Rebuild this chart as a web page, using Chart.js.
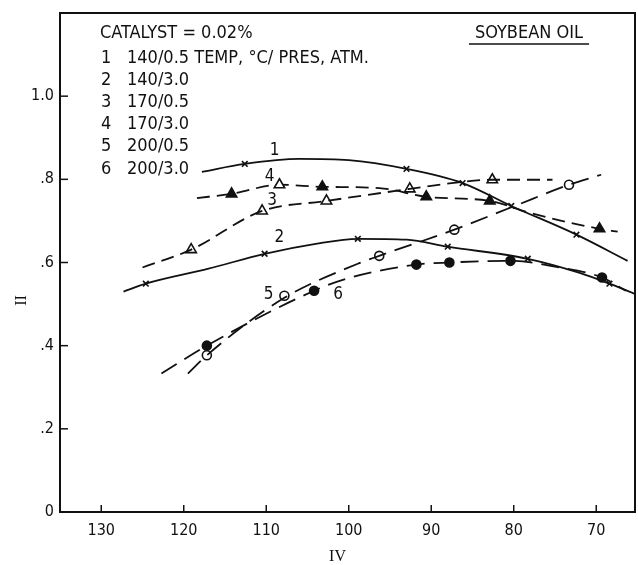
<!DOCTYPE html>
<html><head><meta charset="utf-8">
<script src="https://cdn.jsdelivr.net/npm/chart.js@4"></script>
<style>html,body{margin:0;padding:0;background:#fff}#w{width:638px;height:565px}</style>
</head><body><div id="w"><canvas id="c"></canvas></div>
<script>
const IV_TICKS = [130, 120, 110, 100, 90, 80, 70];
const II_TICKS = [0, 0.2, 0.4, 0.6, 0.8, 1.0];

// curve 1: 140/0.5 (solid, x marks)
const c1IV = [117.8, 112.6, 106, 100, 93.0, 86.2, 80.3, 72.4, 66.2];
const c1II = [0.818, 0.837, 0.849, 0.846, 0.825, 0.791, 0.736, 0.667, 0.604];
const m1IV = [112.6, 93.0, 86.2, 80.3, 72.4];
const m1II = [0.837, 0.825, 0.791, 0.736, 0.667];
// curve 2: 140/3.0 (solid, x marks)
const c2IV = [127.3, 124.6, 117, 110.2, 104, 98.9, 93, 88.0, 78.3, 72, 68.4, 65.0];
const c2II = [0.530, 0.549, 0.585, 0.621, 0.645, 0.657, 0.655, 0.638, 0.609, 0.575, 0.549, 0.522];
const m2IV = [124.6, 110.2, 98.9, 88.0, 78.3, 68.4];
const m2II = [0.549, 0.621, 0.657, 0.638, 0.609, 0.549];
// curve 3: 170/0.5 (dashed, open triangles)
const c3IV = [125.0, 119.1, 110.5, 102.7, 92.6, 87, 82.6, 75.3];
const c3II = [0.588, 0.631, 0.724, 0.748, 0.777, 0.792, 0.799, 0.799];
const m3IV = [119.1, 110.5, 108.4, 102.7, 92.6, 82.6];
const m3II = [0.631, 0.724, 0.787, 0.748, 0.777, 0.799];
// curve 4: 170/3.0 (dashed, filled triangles)
const c4IV = [118.4, 114.2, 108.4, 103.2, 96.3, 90.6, 82.9, 78, 69.6, 67.4];
const c4II = [0.755, 0.765, 0.787, 0.782, 0.779, 0.758, 0.748, 0.719, 0.681, 0.674];
const m4IV = [114.2, 103.2, 90.6, 82.9, 69.6];
const m4II = [0.765, 0.782, 0.758, 0.748, 0.681];
// curve 5: 200/0.5 (dashed, open circles)
const c5IV = [119.5, 117.2, 107.8, 98.9, 96.3, 87.2, 80, 73.3, 69.4];
const c5II = [0.333, 0.377, 0.515, 0.597, 0.616, 0.679, 0.735, 0.787, 0.811];
const m5IV = [117.2, 107.8, 96.3, 87.2, 73.3];
const m5II = [0.377, 0.520, 0.616, 0.679, 0.787];
// curve 6: 200/3.0 (dashed, filled circles)
const c6IV = [122.7, 117.2, 104.2, 100.3, 91.8, 87.8, 80.4, 75, 69.3, 66.4];
const c6II = [0.333, 0.400, 0.532, 0.561, 0.595, 0.600, 0.604, 0.590, 0.564, 0.532];
const m6IV = [117.2, 104.2, 91.8, 87.8, 80.4, 69.3];
const m6II = [0.400, 0.532, 0.595, 0.600, 0.604, 0.564];

const LEGEND_HEAD = 'CATALYST = 0.02%';
const LEGEND_NUM = ['1', '2', '3', '4', '5', '6'];
const LEGEND_TXT = ['140/0.5 TEMP, °C/ PRES, ATM.', '140/3.0', '170/0.5', '170/3.0', '200/0.5', '200/3.0'];
const TITLE = 'SOYBEAN OIL';
const CURVE_LABELS = ['1', '2', '3', '4', '5', '6'];
const LABEL_IV = [109.0, 108.4, 109.3, 109.6, 109.7, 101.3];
const LABEL_II = [0.868, 0.659, 0.748, 0.806, 0.523, 0.523];

const zip = (a, b) => a.map((v, i) => ({x: v, y: b[i]}));
const INK = '#111';
const SANS = "'Liberation Sans Narrow','DejaVu Sans Condensed','Liberation Sans',sans-serif";

function curve(xs, ys, dash) {
  return {type: 'line', data: zip(xs, ys), borderColor: INK, borderWidth: 1.8, borderDash: dash,
    pointRadius: 0, cubicInterpolationMode: 'monotone', fill: false};
}
function marks(xs, ys, style, filled, r) {
  return {type: 'scatter', data: zip(xs, ys), showLine: false, pointStyle: style,
    pointRadius: r, borderColor: INK, borderWidth: 1.6,
    backgroundColor: filled ? INK : '#fff'};
}

const deco = {
  id: 'deco',
  afterDraw(chart) {
    const {ctx, chartArea: a, scales: {x, y}} = chart;
    ctx.save();
    ctx.strokeStyle = INK; ctx.lineWidth = 2;
    ctx.strokeRect(a.left, a.top, a.right - a.left, a.bottom - a.top);
    ctx.lineWidth = 1.5;
    IV_TICKS.forEach(v => { const px = x.getPixelForValue(v); ctx.beginPath(); ctx.moveTo(px, a.bottom); ctx.lineTo(px, a.bottom - 7); ctx.stroke(); });
    II_TICKS.forEach(v => { const py = y.getPixelForValue(v); ctx.beginPath(); ctx.moveTo(a.left, py); ctx.lineTo(a.left + 8, py); ctx.stroke(); });
    ctx.fillStyle = INK;
    ctx.textBaseline = 'middle';
    ctx.font = '18px ' + SANS;
    ctx.textAlign = 'left';
    ctx.fillText(LEGEND_HEAD, a.left + 40, a.top + 20);
    LEGEND_NUM.forEach((n, i) => {
      const ly = a.top + 45 + i * 22.2;
      ctx.fillText(n, a.left + 41, ly);
      ctx.fillText(LEGEND_TXT[i], a.left + 67, ly);
    });
    ctx.textAlign = 'center';
    ctx.fillText(TITLE, a.right - 106, a.top + 20);
    const tw = ctx.measureText(TITLE).width;
    ctx.lineWidth = 1.5;
    ctx.beginPath(); ctx.moveTo(a.right - 106 - tw / 2 - 6, a.top + 31); ctx.lineTo(a.right - 106 + tw / 2 + 6, a.top + 31); ctx.stroke();
    ctx.font = '17px ' + SANS;
    CURVE_LABELS.forEach((t, i) => ctx.fillText(t, x.getPixelForValue(LABEL_IV[i]), y.getPixelForValue(LABEL_II[i])));
    ctx.font = "16px 'Liberation Serif','DejaVu Serif',serif";
    ctx.fillText('IV', (a.left + a.right) / 2 - 10, a.bottom + 45);
    ctx.translate(22, (a.top + a.bottom) / 2 + 38);
    ctx.rotate(-Math.PI / 2);
    ctx.fillText('II', 0, 0);
    ctx.restore();
  }
};

new Chart(document.getElementById('c'), {
  data: {datasets: [
    curve(c1IV, c1II, []), marks(m1IV, m1II, 'crossRot', false, 4),
    curve(c2IV, c2II, []), marks(m2IV, m2II, 'crossRot', false, 4),
    curve(c3IV, c3II, [13, 7]), marks(m3IV, m3II, 'triangle', false, 6),
    curve(c4IV, c4II, [13, 7]), marks(m4IV, m4II, 'triangle', true, 6),
    curve(c5IV, c5II, [18, 9]), marks(m5IV, m5II, 'circle', false, 4.5),
    curve(c6IV, c6II, [18, 9]), marks(m6IV, m6II, 'circle', true, 4.5)
  ]},
  options: {
    responsive: true, maintainAspectRatio: false, animation: false,
    layout: {autoPadding: false, padding: {top: 13, right: 3, left: 0, bottom: 0}},
    plugins: {legend: {display: false}, tooltip: {enabled: false}},
    scales: {
      x: {type: 'linear', reverse: true, min: 65.3, max: 135,
        grid: {display: false, drawTicks: false}, border: {display: false},
        afterBuildTicks: s => { s.ticks = IV_TICKS.map(v => ({value: v})); },
        afterFit: s => { s.height = 53; s.paddingLeft = 0; s.paddingRight = 0; },
        ticks: {color: INK, padding: 9, font: {size: 16, family: SANS}, maxRotation: 0, autoSkip: false}},
      y: {type: 'linear', min: 0, max: 1.2,
        grid: {display: false, drawTicks: false}, border: {display: false},
        afterBuildTicks: s => { s.ticks = II_TICKS.map(v => ({value: v})); },
        afterFit: s => { s.width = 60; s.paddingTop = 0; s.paddingBottom = 0; },
        ticks: {color: INK, padding: 6, font: {size: 16, family: SANS}, autoSkip: false,
          callback: v => v === 0 ? '0' : (v >= 1 ? v.toFixed(1) : v.toFixed(1).replace(/^0/, ''))}}
    }
  },
  plugins: [deco]
});
</script>
</body></html>
